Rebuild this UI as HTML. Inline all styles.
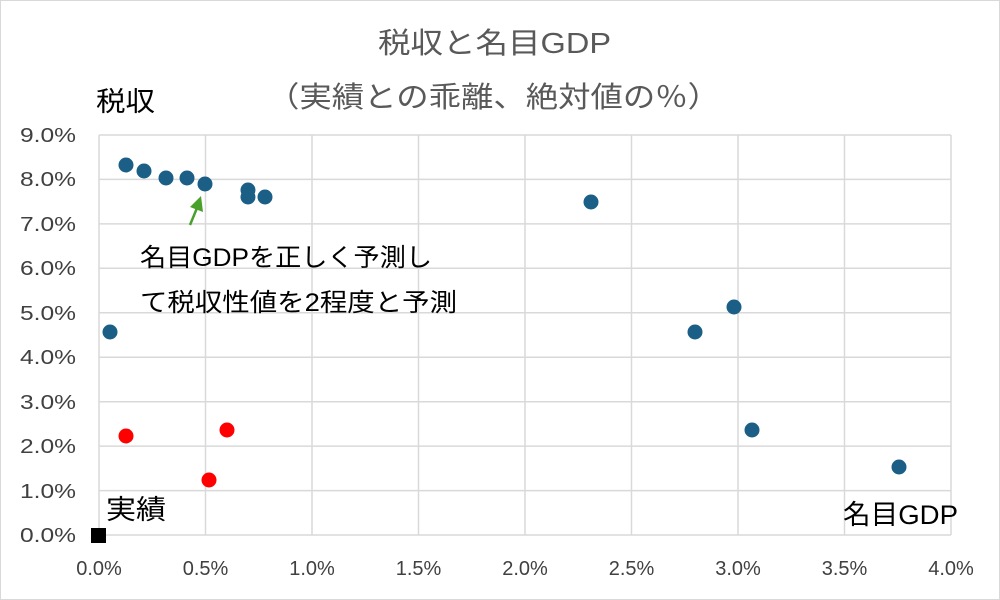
<!DOCTYPE html><html><head><meta charset="utf-8"><style>body{margin:0}svg{display:block}text{font-family:"Liberation Sans","Noto Sans CJK JP",sans-serif}</style></head><body>
<svg width="1000" height="600" viewBox="0 0 1000 600" xmlns="http://www.w3.org/2000/svg">
<rect x="0.5" y="0.5" width="999" height="599" fill="#fff" stroke="#d9d9d9"/>
<g stroke="#d9d9d9" stroke-width="1.5">
<line x1="99" y1="135" x2="951" y2="135"/><line x1="99" y1="179.4" x2="951" y2="179.4"/><line x1="99" y1="223.9" x2="951" y2="223.9"/><line x1="99" y1="268.3" x2="951" y2="268.3"/><line x1="99" y1="312.8" x2="951" y2="312.8"/><line x1="99" y1="357.2" x2="951" y2="357.2"/><line x1="99" y1="401.7" x2="951" y2="401.7"/><line x1="99" y1="446.1" x2="951" y2="446.1"/><line x1="99" y1="490.6" x2="951" y2="490.6"/><line x1="99" y1="535" x2="951" y2="535"/>
<line x1="99" y1="135" x2="99" y2="535"/><line x1="205.5" y1="135" x2="205.5" y2="535"/><line x1="312" y1="135" x2="312" y2="535"/><line x1="418.5" y1="135" x2="418.5" y2="535"/><line x1="525" y1="135" x2="525" y2="535"/><line x1="631.5" y1="135" x2="631.5" y2="535"/><line x1="738" y1="135" x2="738" y2="535"/><line x1="844.5" y1="135" x2="844.5" y2="535"/><line x1="951" y1="135" x2="951" y2="535"/>
</g>
<g font-size="20" fill="#404040" text-anchor="end">
<text x="76" y="142" textLength="56" lengthAdjust="spacingAndGlyphs">9.0%</text><text x="76" y="186" textLength="56" lengthAdjust="spacingAndGlyphs">8.0%</text><text x="76" y="231" textLength="56" lengthAdjust="spacingAndGlyphs">7.0%</text><text x="76" y="275" textLength="56" lengthAdjust="spacingAndGlyphs">6.0%</text><text x="76" y="320" textLength="56" lengthAdjust="spacingAndGlyphs">5.0%</text><text x="76" y="364" textLength="56" lengthAdjust="spacingAndGlyphs">4.0%</text><text x="76" y="409" textLength="56" lengthAdjust="spacingAndGlyphs">3.0%</text><text x="76" y="453" textLength="56" lengthAdjust="spacingAndGlyphs">2.0%</text><text x="76" y="498" textLength="56" lengthAdjust="spacingAndGlyphs">1.0%</text><text x="76" y="542" textLength="56" lengthAdjust="spacingAndGlyphs">0.0%</text>
</g>
<g font-size="20" fill="#404040" text-anchor="middle">
<text x="99" y="575">0.0%</text><text x="205.5" y="575">0.5%</text><text x="312" y="575">1.0%</text><text x="418.5" y="575">1.5%</text><text x="525" y="575">2.0%</text><text x="631.5" y="575">2.5%</text><text x="738" y="575">3.0%</text><text x="844.5" y="575">3.5%</text><text x="951" y="575">4.0%</text>
</g>
<text x="378" y="53" font-size="29" fill="#595959" textLength="233" lengthAdjust="spacingAndGlyphs">税収と名目GDP</text>
<text x="267" y="107" font-size="29" fill="#595959" textLength="453" lengthAdjust="spacingAndGlyphs">（実績との乖離、絶対値の％）</text>
<text x="96" y="111" font-size="27" fill="#000" textLength="59" lengthAdjust="spacingAndGlyphs">税収</text>
<text x="106" y="519" font-size="27" fill="#000" textLength="60" lengthAdjust="spacingAndGlyphs">実績</text>
<text x="843" y="524" font-size="27" fill="#000" textLength="115" lengthAdjust="spacingAndGlyphs">名目GDP</text>
<text x="140" y="266" font-size="25" fill="#000" textLength="292" lengthAdjust="spacingAndGlyphs">名目GDPを正しく予測し</text>
<text x="140" y="311" font-size="25" fill="#000" textLength="317" lengthAdjust="spacingAndGlyphs">て税収性値を2程度と予測</text>
<line x1="190" y1="225" x2="197" y2="208" stroke="#4aa02c" stroke-width="2.5"/>
<polygon points="201,196 190,207 203,212" fill="#4aa02c"/>
<g fill="#1b5e86">
<circle cx="126" cy="165" r="7.5"/><circle cx="144" cy="171" r="7.5"/><circle cx="166" cy="178" r="7.5"/><circle cx="187" cy="178" r="7.5"/><circle cx="205" cy="184" r="7.5"/><circle cx="248" cy="190" r="7.5"/><circle cx="248" cy="197" r="7.5"/><circle cx="265" cy="197" r="7.5"/><circle cx="591" cy="202" r="7.5"/><circle cx="734" cy="307" r="7.5"/><circle cx="695" cy="332" r="7.5"/><circle cx="110" cy="332" r="7.5"/><circle cx="752" cy="430" r="7.5"/><circle cx="899" cy="467" r="7.5"/>
</g>
<g fill="#ff0000"><circle cx="126" cy="436" r="7.5"/><circle cx="227" cy="430" r="7.5"/><circle cx="209" cy="480" r="7.5"/></g>
<rect x="91" y="528" width="15" height="15" fill="#000"/>
</svg></body></html>
